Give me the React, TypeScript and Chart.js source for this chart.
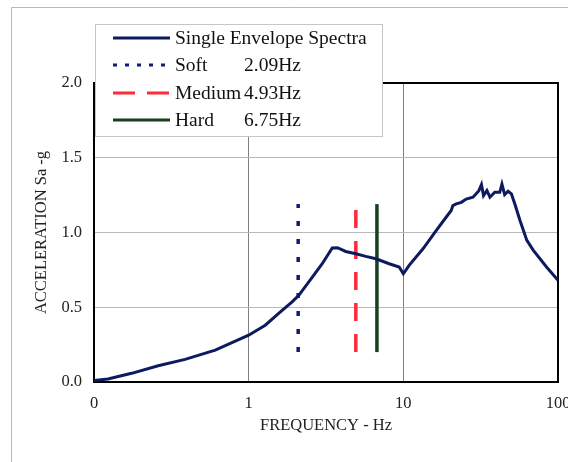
import { useEffect, useRef } from "react";
import { Chart, registerables } from "chart.js";

Chart.register(...registerables);

// ---- data ----
const frequencies = [
  0.1, 0.123, 0.175, 0.26, 0.388, 0.608, 1.0, 1.28, 1.57, 1.91, 2.11, 2.58, 2.99, 3.47, 3.75,
  4.24, 4.93, 5.72, 6.65, 8.1, 9.4, 10.0, 10.9, 13.4, 16.3, 18.9, 20.4, 20.9, 22.0, 23.7, 25.5,
  28.2, 30.8, 32.0, 33.0, 34.7, 36.3, 39.0, 42.0, 43.4, 45.2, 47.6, 50.0, 52.6, 56.8, 62.9,
  69.3, 84.3, 100,
];
const accelerations = [
  0.01, 0.02, 0.058, 0.109, 0.151, 0.213, 0.313, 0.38, 0.46, 0.536, 0.58, 0.702, 0.791, 0.896,
  0.898, 0.873, 0.858, 0.84, 0.824, 0.791, 0.769, 0.724, 0.78, 0.891, 1.013, 1.102, 1.147, 1.18,
  1.191, 1.202, 1.224, 1.236, 1.28, 1.32, 1.247, 1.28, 1.236, 1.269, 1.269, 1.324, 1.253, 1.276,
  1.258, 1.191, 1.08, 0.947, 0.88, 0.769, 0.68,
];
const seriesNames = ["Single Envelope Spectra", "Soft", "Medium", "Hard"];
const siteFrequencies = [2.09, 4.93, 6.75];
const markerRange = [0.2, 1.19];
const xTickValues = [0.1, 1, 10, 100];
const xTickLabels = ["0", "1", "10", "100"];
const yTickValues = [0, 0.5, 1.0, 1.5, 2.0];

const FONT = "'Liberation Serif', 'Times New Roman', serif";
const colors = ["#0d1a5e", "#101c70", "#ff2a3a", "#17401f"];
const dashes = [[], [5, 13], [18, 13], []];
const legendDashes = [[], [4, 8], [22, 12], []];

const framePlugin = {
  id: "frame",
  beforeDraw(chart: any) {
    const ctx = chart.ctx;
    ctx.save();
    ctx.fillStyle = "#ffffff";
    ctx.fillRect(0, 0, chart.width, chart.height);
    ctx.strokeStyle = "#b4b6c8";
    ctx.lineWidth = 1;
    ctx.beginPath();
    ctx.moveTo(11.5, chart.height);
    ctx.lineTo(11.5, 7.5);
    ctx.lineTo(chart.width, 7.5);
    ctx.stroke();
    ctx.restore();
  },
  beforeDatasetsDraw(chart: any) {
    const { ctx, chartArea } = chart;
    ctx.save();
    ctx.strokeStyle = "#000000";
    ctx.lineWidth = 2;
    ctx.strokeRect(chartArea.left, chartArea.top, chartArea.right - chartArea.left, chartArea.bottom - chartArea.top);
    ctx.restore();
  },
};

const legendPlugin = {
  id: "customLegend",
  afterDatasetsDraw(chart: any) {
    const ctx = chart.ctx;
    const box = { left: 95.5, top: 24.5, right: 382.5, bottom: 136.5 };
    ctx.save();
    ctx.fillStyle = "#ffffff";
    ctx.fillRect(box.left, box.top, box.right - box.left, box.bottom - box.top);
    ctx.strokeStyle = "#c4c6cc";
    ctx.lineWidth = 1;
    ctx.strokeRect(box.left, box.top, box.right - box.left, box.bottom - box.top);
    ctx.font = `19.5px ${FONT}`;
    ctx.textBaseline = "middle";
    ctx.fillStyle = "#111111";
    const rowY = [38, 65, 93, 120];
    chart.data.datasets.forEach((ds: any, i: number) => {
      const y = rowY[i];
      ctx.save();
      ctx.strokeStyle = ds.borderColor;
      ctx.lineWidth = 3;
      ctx.setLineDash(legendDashes[i]);
      ctx.beginPath();
      ctx.moveTo(113, y);
      ctx.lineTo(170, y);
      ctx.stroke();
      ctx.restore();
      ctx.fillText(ds.label, 175, y + 1);
      if (i > 0) {
        ctx.fillText(`${siteFrequencies[i - 1].toFixed(2)}Hz`, 244, y + 1);
      }
    });
    ctx.restore();
  },
};

export default function App() {
  const canvasRef = useRef<HTMLCanvasElement>(null);

  useEffect(() => {
    document.body.style.margin = "0";
    const canvas = canvasRef.current;
    if (!canvas) return;

    const datasets: any[] = [
      {
        label: seriesNames[0],
        data: frequencies.map((f, i) => ({ x: f, y: accelerations[i] })),
        borderColor: colors[0],
        borderWidth: 3,
        pointRadius: 0,
        tension: 0,
      },
      ...siteFrequencies.map((f, i) => ({
        label: seriesNames[i + 1],
        data: markerRange.map((v) => ({ x: f, y: v })),
        borderColor: colors[i + 1],
        borderWidth: 3.5,
        borderDash: dashes[i + 1],
        borderCapStyle: "butt",
        pointRadius: 0,
      })),
    ];

    const chart = new Chart(canvas, {
      type: "line",
      data: { datasets },
      plugins: [framePlugin, legendPlugin],
      options: {
        animation: false,
        responsive: false,
        layout: { padding: { top: 83, right: 10, left: 0, bottom: 0 } },
        plugins: { legend: { display: false }, tooltip: { enabled: false } },
        scales: {
          x: {
            type: "logarithmic",
            min: 0.1,
            max: 100,
            afterBuildTicks: (scale: any) => {
              scale.ticks = xTickValues.map((v) => ({ value: v }));
            },
            afterFit: (scale: any) => {
              scale.height = 80;
              scale.paddingLeft = 0;
              scale.paddingRight = 0;
            },
            ticks: {
              autoSkip: false,
              maxRotation: 0,
              padding: 12,
              color: "#222222",
              font: { family: FONT, size: 16.5 },
              callback: (_v: any, index: number) => xTickLabels[index],
            },
            grid: { color: "#808080", lineWidth: 1, drawTicks: false },
            border: { display: false },
            title: {
              display: true,
              text: "FREQUENCY - Hz",
              color: "#222222",
              font: { family: FONT, size: 16.5 },
              padding: { top: 0, bottom: 26 },
            },
          },
          y: {
            type: "linear",
            min: 0,
            max: 2,
            afterBuildTicks: (scale: any) => {
              scale.ticks = yTickValues.map((v) => ({ value: v }));
            },
            afterFit: (scale: any) => {
              scale.width = 94;
              scale.paddingTop = 0;
              scale.paddingBottom = 0;
            },
            ticks: {
              padding: 12,
              color: "#222222",
              font: { family: FONT, size: 16.5 },
              callback: (v: any) => Number(v).toFixed(1),
            },
            grid: { color: "#b8b8b8", lineWidth: 1, drawTicks: false },
            border: { display: false },
            title: {
              display: true,
              text: "ACCELERATION Sa -g",
              color: "#222222",
              font: { family: FONT, size: 16.5 },
              padding: { top: 32, bottom: 0 },
            },
          },
        },
      } as any,
    });
    return () => chart.destroy();
  }, []);

  return (
    <div style={{ width: 568, height: 462 }}>
      <canvas ref={canvasRef} width={568} height={462} style={{ display: "block" }} />
    </div>
  );
}
